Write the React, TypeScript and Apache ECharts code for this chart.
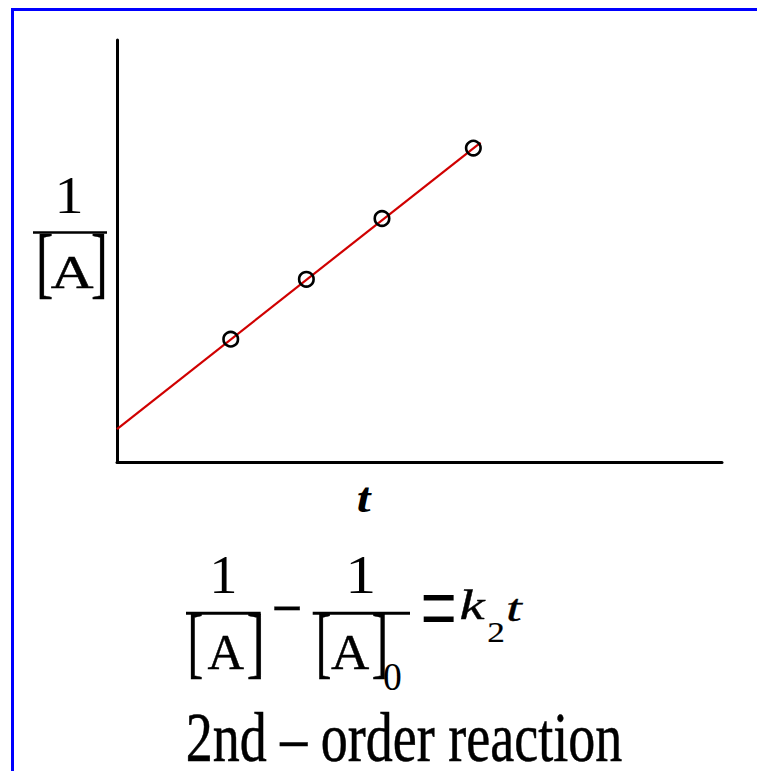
import React, { useEffect, useRef } from "react";
import * as echarts from "echarts";

// Measured (t, 1/[A]) points and the straight-line fit through them
const timePoints = [1.88, 3.13, 4.38, 5.89];
const inverseConc = [2.91, 4.33, 5.77, 7.44];
const fitLineT = [0, 6.01];
const fitLineInv = [0.78, 7.57];
const axisMin = 0;
const axisMax = 10;

const SERIF = '"Liberation Serif", "Times New Roman", serif';
// distance of the SVG "central" baseline above the alphabetic one, in em
const CENTRAL = 0.3375;

// glyph ink boxes in 1/1000 em: [left, bottom, right, top]
type Ink = [number, number, number, number];
const INK: Record<string, Ink> = {
  one: [111, 0, 394, 676],
  A: [15, 0, 706, 674],
  lbr: [88, -156, 299, 662],
  rbr: [34, -156, 245, 662],
  zero: [24, -14, 476, 676],
  two: [30, 0, 475, 676],
  eq: [69, 222, 509, 410],
  minus: [30, 220, 534, 286],
  kIt: [7, -11, 508, 683],
  tIt: [13, -11, 296, 546],
  tBoldIt: [-37, -13, 300, 572],
  caption: [30, 0, 8066, 683],
};

// Place a text so that its ink fills the box [x0, y0, x1, y1]
function fitText(
  text: string,
  box: [number, number, number, number],
  ink: Ink,
  fontSize: number,
  opts: { italic?: boolean; bold?: boolean; weight?: number } = {}
) {
  const [x0, y0, x1, y1] = box;
  const sx = (x1 - x0) / (((ink[2] - ink[0]) * fontSize) / 1000);
  const sy = (y1 - y0) / (((ink[3] - ink[1]) * fontSize) / 1000);
  const ax = x0 - (ink[0] * fontSize * sx) / 1000;
  const ay = y1 - (CENTRAL - ink[1] / 1000) * fontSize * sy;
  const w = opts.weight ?? 0.3;
  return {
    type: "text",
    x: ax,
    y: ay,
    scaleX: sx,
    scaleY: sy,
    z: 10,
    silent: true,
    style: {
      text,
      fontSize,
      lineHeight: fontSize * 0.8,
      fontFamily: SERIF,
      fontStyle: opts.italic ? "italic" : "normal",
      fontWeight: opts.bold ? "bold" : "normal",
      fill: "#000",
      stroke: w > 0 ? "#000" : undefined,
      lineWidth: w,
      align: "left",
      verticalAlign: "middle",
      textAlign: "left",
      textVerticalAlign: "middle",
    },
  };
}

function hLine(x0: number, x1: number, y: number, width: number) {
  return {
    type: "line",
    z: 10,
    silent: true,
    shape: { x1: x0, y1: y, x2: x1, y2: y },
    style: { stroke: "#000", lineWidth: width },
  };
}

// 1/[A] label beside the vertical axis
const yLabel = [
  fitText("1", [61, 178.3, 77.5, 213.3], INK.one, 50, { weight: 0 }),
  hLine(33, 107, 232.5, 2.5),
  fitText("[", [40.7, 236.7, 51.7, 300.7], INK.lbr, 50),
  fitText("A", [51.7, 257.3, 92.7, 288.3], INK.A, 47, { weight: 0.45 }),
  fitText("]", [92.7, 236.7, 103.3, 300.7], INK.rbr, 50),
];

// 1/[A] − 1/[A]0 = k2 t
const rateLaw = [
  fitText("1", [215.5, 556.7, 231.5, 593.3], INK.one, 52, { weight: 0 }),
  hLine(186, 260.7, 613.3, 3),
  fitText("[", [191.7, 618.3, 201.7, 681.7], INK.lbr, 50),
  fitText("A", [208.3, 635, 243.3, 669.3], INK.A, 51, { weight: 0.45 }),
  fitText("]", [248.3, 618.3, 260, 681.7], INK.rbr, 50),
  fitText("\u2212", [273.3, 611, 300.7, 615.5], INK.minus, 54, { weight: 0.3 }),
  fitText("1", [352, 556.7, 369.5, 593.3], INK.one, 52, { weight: 0 }),
  hLine(312.7, 410, 613.3, 3),
  fitText("[", [320, 618.3, 330, 681.7], INK.lbr, 50),
  fitText("A", [331.7, 635, 368.3, 669.3], INK.A, 51, { weight: 0.45 }),
  fitText("]", [373.3, 618.3, 384, 681.7], INK.rbr, 50),
  fitText("0", [384, 662, 401, 690], INK.zero, 38, { weight: 0 }),
  fitText("=", [425, 599, 453.3, 619.5], INK.eq, 54, { weight: 0 }),
  fitText("k", [460, 590.7, 488.3, 620], INK.kIt, 46, { italic: true, weight: 0.4 }),
  fitText("2", [488.3, 621.5, 504, 642], INK.two, 30, { weight: 0.2 }),
  fitText("t", [506.7, 600, 522.7, 620.7], INK.tIt, 46, { italic: true, weight: 0.4 }),
];

const extraText = [
  fitText("t", [355, 488.3, 371.7, 512.7], INK.tBoldIt, 42, { italic: true, bold: true, weight: 0 }),
  fitText("2nd \u2013 order reaction", [187.3, 713.3, 621.7, 761.7], INK.caption, 54, { weight: 0.4 }),
];

export default function App() {
  const ref = useRef<HTMLDivElement>(null);

  useEffect(() => {
    if (!ref.current) return;
    const chart = echarts.init(ref.current, undefined, { renderer: "svg" });

    const valueAxis = {
      type: "value",
      min: axisMin,
      max: axisMax,
      axisLine: { show: true, onZero: false, lineStyle: { color: "#000", width: 3 } },
      axisTick: { show: false },
      axisLabel: { show: false },
      splitLine: { show: false },
    };

    chart.setOption({
      animation: false,
      backgroundColor: "#ffffff",
      grid: { left: 117, top: 40, right: 35, bottom: 309, containLabel: false },
      xAxis: valueAxis,
      yAxis: valueAxis,
      series: [
        {
          type: "line",
          data: fitLineT.map((t, i) => [t, fitLineInv[i]]),
          symbol: "none",
          silent: true,
          lineStyle: { color: "#d00000", width: 2.2 },
          z: 2,
        },
        {
          type: "scatter",
          data: timePoints.map((t, i) => [t, inverseConc[i]]),
          symbol: "circle",
          symbolSize: 14.5,
          silent: true,
          itemStyle: { color: "rgba(0,0,0,0)", borderColor: "#000", borderWidth: 2.6, opacity: 1 },
          z: 3,
        },
      ],
      graphic: [
        {
          type: "rect",
          silent: true,
          z: 1,
          shape: { x: 12.5, y: 9.5, width: 900, height: 900 },
          style: { fill: "none", stroke: "#0000ff", lineWidth: 3 },
        },
        ...yLabel,
        ...rateLaw,
        ...extraText,
      ],
    });

    return () => chart.dispose();
  }, []);

  return (
    <div
      ref={ref}
      style={{ position: "fixed", left: 0, top: 0, width: 757, height: 771, background: "#fff" }}
    />
  );
}
